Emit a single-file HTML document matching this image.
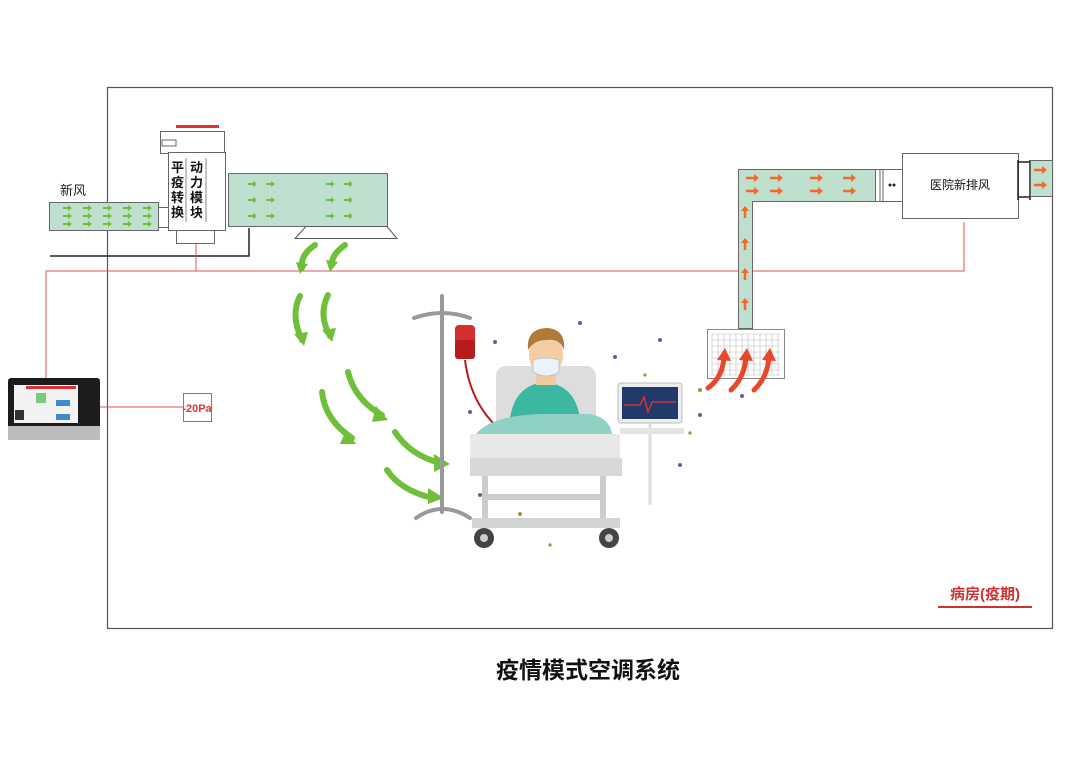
<!DOCTYPE html>
<html><head><meta charset="utf-8"><style>
body{margin:0;background:#fff;}
svg{display:block;font-family:"Liberation Sans","Noto Sans CJK SC",sans-serif;}
</style></head><body>
<svg width="1080" height="764" viewBox="0 0 1080 764">
<defs>
<marker id="ga" viewBox="0 0 10 10" refX="5" refY="5" markerWidth="3" markerHeight="3" orient="auto"><path d="M0,0L10,5L0,10z" fill="#6fbf3a"/></marker>
<g id="garr"><path d="M0,0h6" stroke="#6fbf3a" stroke-width="2"/><path d="M5,-3l4,3l-4,3z" fill="#6fbf3a"/></g>
<g id="oarr"><path d="M0,0h9" stroke="#f06a2a" stroke-width="2.5"/><path d="M8,-4l5,4l-5,4z" fill="#f06a2a"/></g>
<g id="oup"><path d="M0,0v-8" stroke="#f06a2a" stroke-width="2.5"/><path d="M-4,-7l4,-5l4,5z" fill="#f06a2a"/></g>
</defs>
<!-- room -->
<rect x="107.5" y="87.5" width="945" height="541" fill="none" stroke="#555" stroke-width="1.2"/>
<!-- black lines -->
<path d="M50,256H249V228" fill="none" stroke="#222" stroke-width="1.5"/>
<!-- red lines -->
<path d="M46,378V271H964V222M196,271V243M100,407H183" fill="none" stroke="#e35050" stroke-width="1"/>
<rect x="183.5" y="393.5" width="28" height="28" fill="#fff" stroke="#e35050"/>
<text x="197" y="412" font-size="11" fill="#d33" text-anchor="middle" font-weight="bold">-20Pa</text>
<!-- tablet -->
<rect x="8" y="378" width="92" height="62" rx="3" fill="#1c1c1e"/>
<rect x="8" y="426" width="92" height="14" fill="#bbb"/>
<rect x="14" y="385" width="64" height="38" fill="#f2f2f2"/>
<rect x="26" y="386" width="50" height="3" fill="#d33"/>
<rect x="15" y="410" width="9" height="10" fill="#333"/>
<rect x="36" y="393" width="10" height="10" fill="#7c7"/>
<rect x="56" y="400" width="14" height="6" fill="#48c"/>
<rect x="56" y="414" width="14" height="6" fill="#48c"/>
<!-- fresh duct -->
<rect x="49.5" y="202.5" width="109" height="28" fill="#bfe0cf" stroke="#666"/>
<g><use href="#garr" x="63" y="208"/><use href="#garr" x="83" y="208"/><use href="#garr" x="103" y="208"/><use href="#garr" x="123" y="208"/><use href="#garr" x="143" y="208"/>
<use href="#garr" x="63" y="216"/><use href="#garr" x="83" y="216"/><use href="#garr" x="103" y="216"/><use href="#garr" x="123" y="216"/><use href="#garr" x="143" y="216"/>
<use href="#garr" x="63" y="224"/><use href="#garr" x="83" y="224"/><use href="#garr" x="103" y="224"/><use href="#garr" x="123" y="224"/><use href="#garr" x="143" y="224"/></g>
<text x="60" y="195" font-size="13" fill="#222">新风</text>
<!-- unit -->
<rect x="176" y="125" width="43" height="3" fill="#d33"/>
<rect x="160.5" y="131.5" width="64" height="22" fill="#fff" stroke="#666"/>
<rect x="162" y="140" width="14" height="6" fill="#fff" stroke="#666"/>
<rect x="168.5" y="152.5" width="57" height="78" fill="#fff" stroke="#666"/>
<rect x="158.5" y="207.5" width="10" height="20" fill="#fff" stroke="#666"/>
<rect x="176.5" y="230.5" width="38" height="13" fill="#fff" stroke="#666"/>
<path d="M186,158V222M206,158V222" stroke="#888" stroke-width="1"/>
<text font-size="13" fill="#111" font-weight="bold"><tspan x="171" y="172">平</tspan><tspan x="171" y="187">疫</tspan><tspan x="171" y="202">转</tspan><tspan x="171" y="217">换</tspan></text>
<text font-size="13" fill="#111" font-weight="bold"><tspan x="190" y="172">动</tspan><tspan x="190" y="187">力</tspan><tspan x="190" y="202">模</tspan><tspan x="190" y="217">块</tspan></text>
<!-- supply duct -->
<rect x="228.5" y="173.5" width="159" height="53" fill="#bfe0cf" stroke="#666"/>
<g><use href="#garr" x="248" y="184"/><use href="#garr" x="266" y="184"/><use href="#garr" x="326" y="184"/><use href="#garr" x="344" y="184"/>
<use href="#garr" x="248" y="200"/><use href="#garr" x="266" y="200"/><use href="#garr" x="326" y="200"/><use href="#garr" x="344" y="200"/>
<use href="#garr" x="248" y="216"/><use href="#garr" x="266" y="216"/><use href="#garr" x="326" y="216"/><use href="#garr" x="344" y="216"/></g>
<path d="M306,226.5H387L397,238.5H295Z" fill="#fff" stroke="#555"/>
<!-- green curved arrows -->
<g fill="none" stroke="#6fbf3a" stroke-width="6" stroke-linecap="round">
<path d="M315,245Q300,255 302,268"/><path d="M345,245Q331,255 332,265"/>
<path d="M300,296Q290,315 302,340"/><path d="M328,295Q318,315 330,336"/>
<path d="M348,372Q355,400 382,415"/><path d="M322,392Q325,420 352,438"/>
<path d="M395,432Q410,455 440,463"/><path d="M387,470Q400,490 432,498"/>
</g>
<g fill="#6fbf3a"><path d="M296,262l12,2l-8,10z"/><path d="M326,260l12,2l-8,10z"/><path d="M294,334l14,-2l-4,14z"/><path d="M322,330l14,-2l-4,14z"/><path d="M376,406l12,14l-16,2z"/><path d="M346,430l10,14l-16,0z"/><path d="M434,454l16,10l-16,8z"/><path d="M428,488l16,10l-16,6z"/></g>
<!-- exhaust duct -->
<path d="M738.5,169.5H875.5V201.5H752.5V328.5H738.5Z" fill="#bfe0cf" stroke="#666"/>
<g><use href="#oarr" x="746" y="178"/><use href="#oarr" x="770" y="178"/><use href="#oarr" x="810" y="178"/><use href="#oarr" x="843" y="178"/>
<use href="#oarr" x="746" y="191"/><use href="#oarr" x="770" y="191"/><use href="#oarr" x="810" y="191"/><use href="#oarr" x="843" y="191"/>
<use href="#oup" x="745" y="218"/><use href="#oup" x="745" y="250"/><use href="#oup" x="745" y="280"/><use href="#oup" x="745" y="310"/></g>
<rect x="875.5" y="169.5" width="27" height="32" fill="#fff" stroke="#666"/>
<path d="M880,170V201M883,170V201" stroke="#666"/>
<circle cx="890" cy="185" r="1.5" fill="#222"/><circle cx="894" cy="185" r="1.5" fill="#222"/>
<rect x="902.5" y="153.5" width="116" height="65" fill="#fff" stroke="#666"/>
<text x="960" y="189" font-size="12" text-anchor="middle" fill="#111">医院新排风</text>
<path d="M1018,160V200M1030,160V200M1018,162H1030M1018,197H1030" stroke="#222" stroke-width="1.5"/>
<rect x="1030.5" y="160.5" width="22" height="36" fill="#bfe0cf" stroke="#666"/>
<use href="#oarr" x="1034" y="170"/><use href="#oarr" x="1034" y="185"/>
<!-- grille -->
<rect x="707.5" y="329.5" width="77" height="49" fill="#fff" stroke="#888"/>
<g stroke="#bbb" stroke-width="0.6"><path d="M712,334H780M712,340H780M712,346H780M712,352H780M712,358H780M712,364H780M712,370H780M712,375H780"/><path d="M712,334V375M718,334V375M724,334V375M730,334V375M736,334V375M742,334V375M748,334V375M754,334V375M760,334V375M766,334V375M772,334V375M778,334V375"/></g>
<g fill="none" stroke="#e8482a" stroke-width="5" stroke-linecap="round"><path d="M708,388Q722,378 724,358"/><path d="M731,390Q744,378 746,358"/><path d="M754,390Q767,378 769,358"/></g>
<g fill="#e8482a"><path d="M717,360l8,-12l6,13z"/><path d="M739,360l8,-12l6,13z"/><path d="M762,360l8,-12l6,13z"/></g>
<!-- virus dots -->
<g fill="#6a5a9a"><circle cx="580" cy="323" r="2"/><circle cx="495" cy="342" r="2"/><circle cx="615" cy="357" r="2"/><circle cx="470" cy="412" r="2"/><circle cx="680" cy="465" r="2"/><circle cx="700" cy="415" r="2"/><circle cx="742" cy="396" r="2"/><circle cx="480" cy="495" r="2"/><circle cx="660" cy="340" r="2"/><circle cx="600" cy="460" r="2"/></g>
<g fill="#a78a4a"><circle cx="520" cy="514" r="2"/><circle cx="700" cy="390" r="2"/><circle cx="645" cy="375" r="1.6"/><circle cx="550" cy="545" r="1.6"/><circle cx="690" cy="433" r="1.6"/></g>
<!-- IV stand -->
<g stroke="#999" stroke-width="4" fill="none" stroke-linecap="round">
<path d="M442,296V512"/><path d="M414,318Q442,308 470,318"/><path d="M416,518Q442,500 470,518"/></g>
<rect x="455" y="325" width="20" height="34" rx="4" fill="#d32f2f"/>
<rect x="455" y="340" width="20" height="19" rx="3" fill="#b71c1c"/>
<path d="M465,360Q470,400 495,425" stroke="#b71c1c" stroke-width="2" fill="none"/>
<!-- bed headboard -->
<rect x="496" y="366" width="100" height="66" rx="10" fill="#ddd"/>
<!-- patient -->
<path d="M510,418Q515,385 545,382Q575,385 580,418Z" fill="#3cb8a0"/>
<rect x="536" y="369" width="20" height="16" fill="#f2c9a0"/>
<ellipse cx="546" cy="355" rx="17" ry="21" fill="#f4cda5"/>
<path d="M528,350Q526,328 548,328Q566,330 564,350Q560,338 546,340Q534,340 528,350Z" fill="#b07a3a"/>
<path d="M533,360Q546,356 559,360V372Q546,380 533,372Z" fill="#eaf4f8" stroke="#bbb" stroke-width="0.8"/>
<!-- blanket -->
<path d="M476,434Q490,416 540,414H590Q610,418 612,434Z" fill="#8fd1c4"/>
<!-- bed -->
<rect x="470" y="458" width="152" height="18" fill="#d8d8d8"/>
<rect x="470" y="434" width="150" height="24" fill="#e8e8e8"/>
<g stroke="#ccc" stroke-width="6"><path d="M485,476V525M603,476V525M485,497H603"/></g>
<rect x="472" y="518" width="148" height="10" fill="#d4d4d4"/>
<circle cx="484" cy="538" r="10" fill="#444"/><circle cx="484" cy="538" r="4" fill="#ccc"/>
<circle cx="609" cy="538" r="10" fill="#444"/><circle cx="609" cy="538" r="4" fill="#ccc"/>
<!-- monitor -->
<rect x="618" y="383" width="64" height="40" rx="3" fill="#eee" stroke="#bbb"/>
<rect x="622" y="387" width="56" height="32" fill="#1f3a6b"/>
<path d="M624,405H640L644,397L648,412L652,402H676" stroke="#e33" stroke-width="1.3" fill="none"/>
<path d="M650,423V505" stroke="#ddd" stroke-width="3"/>
<rect x="620" y="428" width="64" height="6" fill="#e4e4e4"/>
<!-- label -->
<text x="985" y="599" font-size="15" font-weight="bold" fill="#d32f2f" text-anchor="middle">病房(疫期)</text>
<rect x="938" y="606" width="94" height="2" fill="#d32f2f"/>
<text x="588" y="678" font-size="23" font-weight="bold" fill="#111" text-anchor="middle">疫情模式空调系统</text>
</svg>
</body></html>
